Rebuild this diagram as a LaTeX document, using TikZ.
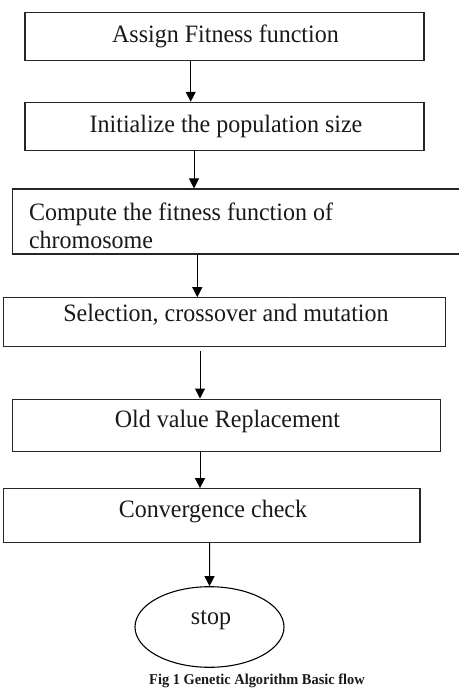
\documentclass[tikz,border=0pt]{standalone}
\usepackage{fontspec}
\setmainfont{Liberation Serif}[FakeStretch=0.96]
\usetikzlibrary{arrows.meta,shapes.geometric}
\begin{document}
\begin{tikzpicture}[x=1pt,y=-1pt,
  every node/.style={font=\fontsize{25}{28.5}\selectfont, text=black!90},
  stepbox/.style={draw=black!85, line width=1.1pt, rectangle, inner sep=0pt},
  arr/.style={draw=black, line width=1pt, -{Triangle[length=10pt,width=10pt]}}]
\useasboundingbox (0,0) rectangle (458,690);
% boxes
\node[stepbox, minimum width=399pt, minimum height=48pt] (b1) at (224.5,36.7) {};
\node at (225.5,36) (t1) {Assign Fitness function};
\node[stepbox, minimum width=399pt, minimum height=47.7pt] (b2) at (224.5,126.2) {};
\node at (226,126) (t2) {Initialize the population size};
\node[stepbox, minimum width=460pt, minimum height=65pt] (b3) at (242.7,221.5) {};
\node[anchor=west, align=left] at (25.5,226) (t3) {Compute the fitness function of\\chromosome};
\node[stepbox, minimum width=442pt, minimum height=49pt] (b4) at (224.3,322.2) {};
\node at (226,315) (t4) {Selection, crossover and mutation};
\node[stepbox, minimum width=428.4pt, minimum height=52.7pt] (b5) at (226.5,425.4) {};
\node at (227.5,421.5) (t5) {Old value Replacement};
\node[stepbox, minimum width=416.3pt, minimum height=53.6pt] (b6) at (211.85,515.5) {};
\node at (213,511.5) (t6) {Convergence check};
\node[draw=black, line width=1.1pt, ellipse, minimum width=149pt, minimum height=80.6pt, inner sep=0pt] (e) at (209.5,627) {};
\node at (211,620) (t7) {stop};
% arrow columns
\coordinate (c1) at (190.7,0);
\coordinate (c2) at (194,0);
\coordinate (c3) at (197.3,0);
\coordinate (c4) at (200,0);
\coordinate (c5) at (200,0);
\coordinate (c6) at (209.7,0);
\draw[arr] (b1.south -| c1) -- (b2.north -| c1);
\draw[arr] (b2.south -| c2) -- (b3.north -| c2);
\draw[arr] (b3.south -| c3) -- (b4.north -| c3);
\draw[arr, shorten <=3.3pt] (b4.south -| c4) -- (b5.north -| c4);
\draw[arr] (b5.south -| c5) -- (b6.north -| c5);
\draw[arr] (b6.south -| c6) -- (e.north);
% caption
\node[anchor=base, inner sep=0pt, font=\fontsize{15}{17}\bfseries] (cap) at (257,684.5) {Fig 1 Genetic Algorithm Basic flow};
\end{tikzpicture}
\end{document}
